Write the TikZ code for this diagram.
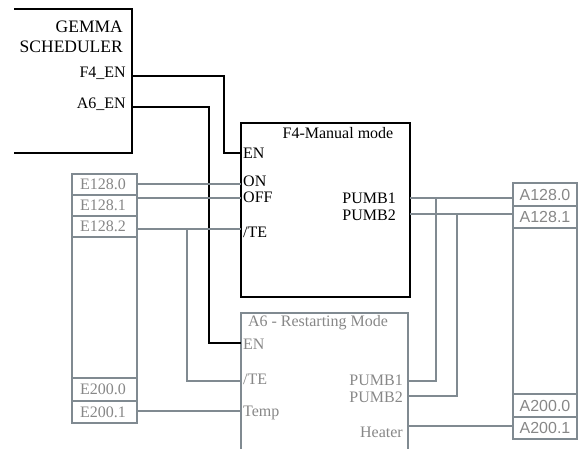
\documentclass[tikz,border=0pt]{standalone}
\usepackage{fontspec}
\setmainfont{Liberation Serif}
\newfontfamily\cellfont{Liberation Sans}
\usetikzlibrary{calc, positioning}

\definecolor{wiregray}{RGB}{128,138,145}
\definecolor{textgray}{RGB}{135,135,135}

\begin{document}
\begin{tikzpicture}[x=1pt, y=-1pt,
    blk/.style={draw=black, line width=1.2pt},
    gblk/.style={draw=wiregray, line width=1.2pt},
    wire/.style={draw=black, line width=1.2pt},
    gwire/.style={draw=wiregray, line width=1.5pt},
    port/.style={inner sep=0pt, font=\fontsize{16}{16}\selectfont},
    gport/.style={port, text=textgray},
    cell/.style={inner sep=0pt, text=textgray, font=\fontsize{16}{16}\selectfont},
    acell/.style={cell, font=\cellfont\fontsize{16}{16}\selectfont}]
  \useasboundingbox (0,0) rectangle (586,449);
  \def\lx{72}
  \def\rx{137}
  \def\ax{513}
  \def\bx{577}

  % scheduler
  \draw[blk] (14,9) -- (132,9) -- (132,153) -- (14,153);
  \node[port, anchor=east, font=\fontsize{17.5}{17.5}\selectfont] (gtitle) at (123,27) {GEMMA};
  \node[port, anchor=east, font=\fontsize{17.5}{17.5}\selectfont] (gsub) at (123,47) {SCHEDULER};
  \node[port, anchor=east] (gf4) at (126,73) {F4\_EN};
  \node[port, anchor=east] (ga6) at (126,104) {A6\_EN};
  \coordinate (gf4o) at (132,76);
  \coordinate (ga6o) at (132,107);

  % F4 block
  \draw[blk] (241,123) rectangle (410,297);
  \node[port] (f4t) at (338,133) {F4-Manual mode};
  \node[port, anchor=west] (f4en) at (243,153) {EN};
  \node[port, anchor=west] (f4on) at (243,181) {ON};
  \node[port, anchor=west] (f4off) at (243,197) {OFF};
  \node[port, anchor=west] (f4te) at (243,232) {/TE};
  \node[port, anchor=east] (f4p1) at (396,198) {PUMB1};
  \node[port, anchor=east] (f4p2) at (396,215) {PUMB2};
  \coordinate (f4eni) at (241,153);
  \coordinate (f4oni) at (241,184);
  \coordinate (f4offi) at (241,198);
  \coordinate (f4tei) at (241,229);
  \coordinate (f4p1o) at (410,198);
  \coordinate (f4p2o) at (410,214);

  % A6 block
  \draw[gblk] (241,313) rectangle (408,449.2);
  \node[gport] (a6t) at (318,323) {A6 - Restarting Mode};
  \node[gport, anchor=west] (a6en) at (243,344) {EN};
  \node[gport, anchor=west] (a6te) at (243,379) {/TE};
  \node[gport, anchor=west] (a6tmp) at (243,413) {Temp};
  \node[gport, anchor=east] (a6p1) at (403,380) {PUMB1};
  \node[gport, anchor=east] (a6p2) at (403,397) {PUMB2};
  \node[gport, anchor=east] (a6ht) at (403,432) {Heater};
  \coordinate (a6eni) at (241,343);
  \coordinate (a6tei) at (241,381);
  \coordinate (a6tmpi) at (241,411);
  \coordinate (a6p1o) at (408,381);
  \coordinate (a6p2o) at (408,396);
  \coordinate (a6hto) at (408,426);

  % input column
  \draw[gblk] (\lx,174) rectangle (\rx,423);
  \foreach \y in {195,216,237,378,401}
    \draw[gblk] (\lx,\y) -- (\rx,\y);
  \node[cell] (e0) at (103,184) {E128.0};
  \node[cell] (e1) at (103,205) {E128.1};
  \node[cell] (e2) at (103,226) {E128.2};
  \node[cell] (e200) at (103,389) {E200.0};
  \node[cell] (e201) at (103,412) {E200.1};
  \coordinate (e0o) at (\rx,184);
  \coordinate (e1o) at (\rx,198);
  \coordinate (e2o) at (\rx,229);
  \coordinate (e201o) at (\rx,411);

  % output column
  \draw[gblk] (\ax,183) rectangle (\bx,439);
  \foreach \y in {206,228,394,417}
    \draw[gblk] (\ax,\y) -- (\bx,\y);
  \node[acell] (a0) at (545,195) {A128.0};
  \node[acell] (a1) at (545,217) {A128.1};
  \node[acell] (a200) at (545,406) {A200.0};
  \node[acell] (a201) at (545,428) {A200.1};
  \coordinate (a0i) at (\ax,198);
  \coordinate (a1i) at (\ax,214);
  \coordinate (a201i) at (\ax,426);

  % enable wires
  \draw[wire] (gf4o) -- (224,76) |- (f4eni);
  \draw[wire] (ga6o) -- (209,107) |- (a6eni);

  % inputs
  \draw[gwire] (e0o) -- (f4oni);
  \draw[gwire] (e1o) -- (f4offi);
  \draw[gwire] (e2o) -- (f4tei);
  \draw[gwire] (e2o -| 187,0) |- (a6tei);
  \draw[gwire] (e201o) -- (a6tmpi);

  % outputs
  \draw[gwire] (f4p1o) -- (a0i);
  \draw[gwire] (f4p2o) -- (a1i);
  \draw[gwire] (f4p1o -| 436,0) |- (a6p1o);
  \draw[gwire] (f4p2o -| 457,0) |- (a6p2o);
  \draw[gwire] (a6hto) -- (a201i);
\end{tikzpicture}
\end{document}
